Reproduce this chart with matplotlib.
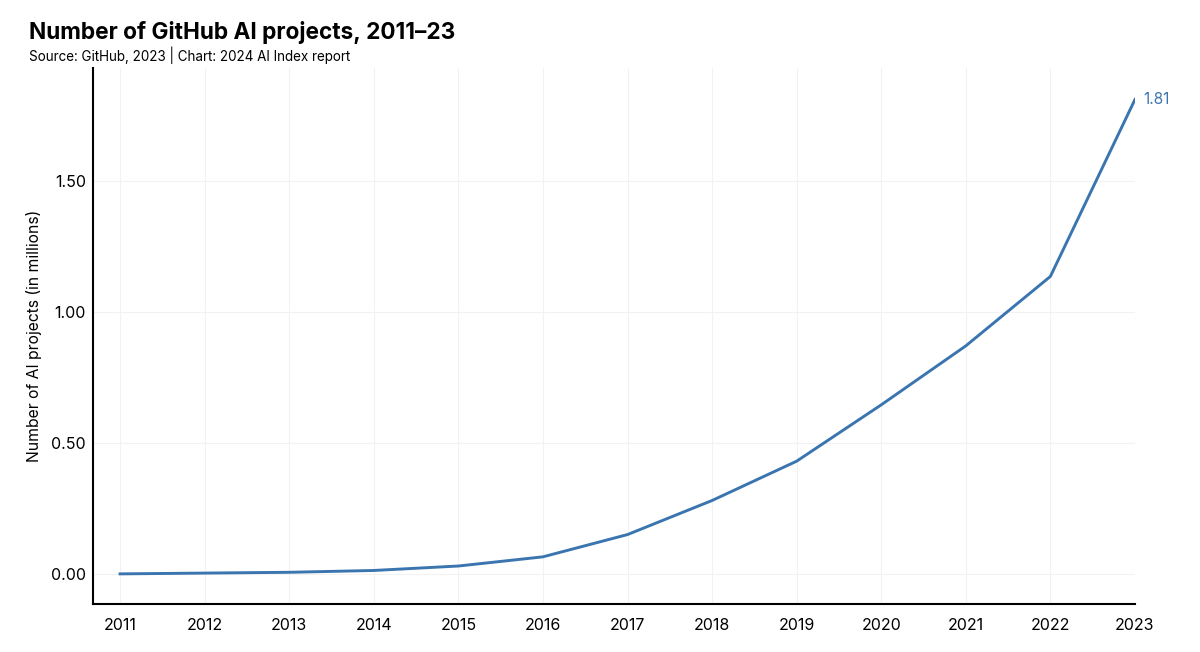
import matplotlib
matplotlib.use("Agg")
import matplotlib.pyplot as plt

# data (millions of projects)
years = [2011, 2012, 2013, 2014, 2015, 2016, 2017, 2018, 2019, 2020, 2021, 2022, 2023]
projects = [0.0, 0.003, 0.006, 0.013, 0.03, 0.065, 0.15, 0.28, 0.43, 0.645, 0.87, 1.135, 1.81]
yticks = [0.0, 0.5, 1.0, 1.5]

line_color = "#3a75b0"
plt.rcParams['font.family'] = ['Inter', 'DejaVu Sans']

fig = plt.figure(figsize=(12, 6.52), dpi=100)
ax = fig.add_axes([0.0775, 0.0736, 0.8683, 0.822])

ax.plot(years, projects, color=line_color, linewidth=2.1, zorder=3)
ax.text(years[-1] + 0.1, projects[-1], f"{projects[-1]:.2f}", color=line_color,
        fontsize=11, va='center', ha='left')

ax.set_xlim(2010.68, 2023)
ax.set_ylim(-0.115, 1.93)
ax.set_xticks(years)
ax.set_xticklabels([str(y) for y in years])
ax.set_yticks(yticks)
ax.set_yticklabels([f"{v:.2f}" for v in yticks])
ax.tick_params(axis='x', length=0, labelsize=11.5, pad=10)
ax.tick_params(axis='y', length=0, labelsize=11.5, pad=5)
ax.grid(True, color="#f2f2f2", linewidth=0.8, zorder=0)
ax.set_axisbelow(True)
for s in ['top', 'right']:
    ax.spines[s].set_visible(False)
for s in ['left', 'bottom']:
    ax.spines[s].set_linewidth(1.5)
    ax.spines[s].set_color('black')
ax.set_ylabel("Number of AI projects (in millions)", fontsize=11.3)
ax.yaxis.set_label_coords(-0.049, 0.5)

fig.text(0.024, 0.932, "Number of GitHub AI projects, 2011–23", fontsize=16.3,
         fontweight='bold', ha='left', va='bottom')
fig.text(0.024, 0.928, "Source: GitHub, 2023 | Chart: 2024 AI Index report", fontsize=9.7,
         ha='left', va='top')

fig.savefig("out.png", dpi=100)
